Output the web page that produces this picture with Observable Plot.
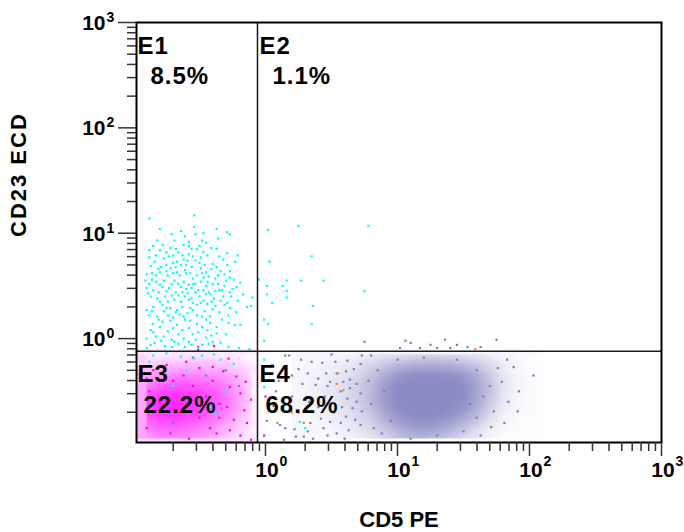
<!DOCTYPE html>
<html><head><meta charset="utf-8">
<script src="https://cdn.jsdelivr.net/npm/d3@7"></script>
<script src="https://cdn.jsdelivr.net/npm/@observablehq/plot@0.6"></script>
<style>html,body{margin:0;padding:0;background:#fff;} svg{display:block;}</style>
</head><body><div id="chart"></div>
<script>
// ---------- DATA (log10 units of CD5 PE, CD23 ECD) ----------
const gateX = 0.87;   // CD5 PE gate
const gateY = 0.76;   // CD23 ECD gate
const quadNames = ["E1", "E2", "E3", "E4"];
const quadPcts = ["8.5%", "1.1%", "22.2%", "68.2%"];
const xMajorExp = [0, 1, 2, 3];
const yMajorExp = [0, 1, 2, 3];
const xMinor = [0.2,0.3,0.4,0.5,0.6,0.7,0.8,0.9,2,3,4,5,6,7,8,9,20,30,40,50,60,70,80,90,200,300,400,500,600,700,800,900];
const yMinor = [0.2,0.3,0.4,0.5,0.6,0.7,0.8,0.9,2,3,4,5,6,7,8,9,20,30,40,50,60,70,80,90,200,300,400,500,600,700,800,900];

// E1 cyan population (log10 x, log10 y)
const cyanE1 = [[-0.88,1.14],[-0.54,1.17],[-0.54,1.06],[-0.80,1.04],[-0.37,1.04],[-0.29,1.01],[-0.71,0.99],[-0.61,0.97],[-0.53,0.99],[-0.27,0.99],[-0.69,0.93],[-0.48,0.93],[-0.36,0.95],[-0.85,0.88],[-0.78,0.89],[-0.62,0.89],[-0.45,0.91],[-0.56,0.85],[-0.52,0.85],[-0.88,0.84],[-0.80,0.84],[-0.75,0.82],[-0.68,0.85],[-0.37,0.85],[-0.29,0.81],[-0.21,0.79],[-0.83,0.79],[-0.63,0.79],[-0.58,0.80],[-0.44,0.79],[-0.35,0.78],[-0.23,0.73],[-0.84,0.73],[-0.77,0.76],[-0.67,0.73],[-0.59,0.74],[-0.53,0.74],[-0.40,0.71],[-0.79,0.68],[-0.72,0.67],[-0.68,0.68],[-0.64,0.70],[-0.61,0.65],[-0.56,0.68],[-0.49,0.67],[-0.45,0.63],[-0.34,0.64],[-0.27,0.64],[-0.90,0.61],[-0.86,0.62],[-0.80,0.63],[-0.74,0.60],[-0.67,0.63],[-0.57,0.62],[-0.52,0.60],[-0.43,0.59],[-0.38,0.57],[-0.30,0.55],[-0.24,0.56],[-0.19,0.53],[-0.91,0.55],[-0.83,0.54],[-0.77,0.55],[-0.69,0.55],[-0.62,0.54],[-0.58,0.51],[-0.49,0.54],[-0.40,0.52],[-0.90,0.48],[-0.85,0.46],[-0.78,0.49],[-0.73,0.48],[-0.64,0.49],[-0.56,0.48],[-0.51,0.46],[-0.43,0.44],[-0.35,0.46],[-0.33,0.46],[-0.27,0.44],[-0.87,0.40],[-0.82,0.38],[-0.76,0.40],[-0.71,0.41],[-0.66,0.41],[-0.61,0.40],[-0.56,0.38],[-0.45,0.42],[-0.42,0.42],[-0.39,0.38],[-0.34,0.36],[-0.29,0.34],[-0.21,0.36],[-0.10,0.39],[-0.90,0.27],[-0.85,0.30],[-0.78,0.32],[-0.72,0.29],[-0.67,0.27],[-0.63,0.30],[-0.57,0.29],[-0.52,0.32],[-0.44,0.33],[-0.38,0.31],[-0.27,0.29],[-0.14,0.30],[-0.11,0.31],[-0.88,0.22],[-0.82,0.21],[-0.74,0.22],[-0.68,0.25],[-0.62,0.21],[-0.52,0.22],[-0.48,0.21],[-0.42,0.21],[-0.28,0.22],[-0.85,0.14],[-0.78,0.16],[-0.72,0.17],[-0.67,0.13],[-0.61,0.18],[-0.52,0.14],[-0.42,0.15],[-0.23,0.13],[-0.19,0.13],[-0.87,0.08],[-0.80,0.11],[-0.63,0.08],[-0.58,0.10],[-0.44,0.08],[-0.37,0.05],[-0.90,0.00],[-0.83,0.02],[-0.77,0.02],[-0.71,-0.01],[-0.62,0.00],[-0.53,-0.01],[-0.45,0.01],[-0.40,-0.03],[-0.76,-0.07],[-0.69,-0.03],[-0.61,-0.08],[-0.56,-0.06],[-0.48,-0.06],[-0.34,-0.04],[-0.20,-0.09],[-0.12,-0.10],[-0.90,-0.09],
[-0.70,0.72],[-0.60,0.70],[-0.50,0.72],[-0.75,0.64],[-0.65,0.60],[-0.55,0.57],[-0.47,0.58],[-0.71,0.52],[-0.60,0.47],[-0.53,0.52],[-0.45,0.50],[-0.68,0.44],[-0.59,0.43],[-0.50,0.40],[-0.74,0.35],[-0.64,0.35],[-0.55,0.34],[-0.47,0.36],[-0.81,0.44],[-0.86,0.56],[-0.81,0.66],[-0.73,0.78],[-0.66,0.82],[-0.47,0.82],[-0.41,0.66],[-0.36,0.52],[-0.32,0.40],[-0.40,0.28],[-0.59,0.24],[-0.77,0.26],[-0.70,0.10],[-0.48,0.11],[-0.33,0.18],[-0.55,0.04],[-0.66,-0.05],[-0.84,-0.04],[-0.31,0.61],[-0.25,0.47],[-0.17,0.42],[-0.58,0.92],
[-0.82,0.93],[-0.64,1.02],[-0.47,1.00],[-0.72,0.86],[-0.58,0.88],[-0.50,0.88],[-0.41,0.86],[-0.88,0.77],[-0.70,0.79],[-0.55,0.78],[-0.49,0.77],[-0.32,0.75],[-0.87,0.69],[-0.75,0.70],[-0.62,0.75],[-0.46,0.70],[-0.37,0.68],[-0.29,0.70],[-0.83,0.60],[-0.70,0.62],[-0.60,0.62],[-0.48,0.62],[-0.36,0.60],[-0.27,0.58],[-0.88,0.52],[-0.80,0.51],[-0.66,0.52],[-0.55,0.52],[-0.44,0.54],[-0.31,0.50],[-0.22,0.49],[-0.89,0.43],[-0.75,0.45],[-0.63,0.44],[-0.53,0.44],[-0.47,0.46],[-0.38,0.45],[-0.26,0.40],[-0.80,0.35],[-0.69,0.37],[-0.58,0.37],[-0.49,0.34],[-0.41,0.35],[-0.31,0.32],[-0.86,0.26],[-0.75,0.29],[-0.65,0.23],[-0.55,0.27],[-0.46,0.26],[-0.35,0.25],[-0.22,0.25],[-0.81,0.18],[-0.70,0.20],[-0.57,0.17],[-0.45,0.18],[-0.37,0.11],[-0.28,0.15],[-0.85,0.06],[-0.74,0.07],[-0.66,0.04],[-0.51,0.06],[-0.41,0.03],[-0.30,0.04],[-0.79,-0.02],[-0.58,-0.03],[-0.43,-0.05],[-0.87,-0.06],[-0.71,-0.08],[-0.51,-0.09],[-0.28,-0.08]];
// cyan events in E2, E3, E4
const cyanOther = [[0.02,1.03],[0.25,1.07],[0.78,1.07],[0.03,0.73],[0.35,0.78],[-0.05,0.56],[0.16,0.55],[0.27,0.55],[0.44,0.55],[0.01,0.50],[0.13,0.50],[0.16,0.45],[0.75,0.45],[0.01,0.42],[0.16,0.39],[0.05,0.34],[0.36,0.31],[-0.01,0.18],[0.02,0.14],[0.35,0.14],[-0.01,-0.02],
[-0.85,-0.16],[-0.75,-0.14],[-0.64,-0.17],[-0.54,-0.19],[-0.48,-0.16],[-0.39,-0.15],[-0.34,-0.20],[-0.24,-0.24],[-0.42,-0.65],[-0.52,-0.58],[-0.38,-0.71],[-0.60,-0.30],[-0.70,-0.45],[-0.88,-0.22],[-0.30,-0.50],
[-0.01,-0.20],[-0.01,-0.46],[0.26,-0.79],[0.30,-0.85]];
// magenta events (E3 population) outside / on top of its dense core
const magentaPts = [[-0.28,-0.19],[-0.40,-0.27],[-0.32,-0.31],[-0.22,-0.36],[-0.15,-0.41],[-0.27,-0.46],[-0.19,-0.52],[-0.11,-0.58],[-0.29,-0.65],[-0.16,-0.68],[-0.24,-0.77],[-0.14,-0.80],[-0.27,-0.87],[-0.37,-0.90],[-0.19,-0.92],[-0.11,-0.96],[-0.51,-0.08],[-0.39,-0.07],[-0.51,-0.11],
[-0.85,-0.30],[-0.75,-0.25],[-0.60,-0.22],[-0.50,-0.28],[-0.88,-0.50],[-0.70,-0.40],[-0.55,-0.45],[-0.45,-0.55],[-0.80,-0.60],[-0.65,-0.70],[-0.50,-0.75],[-0.90,-0.85],[-0.72,-0.90],[-0.58,-0.95],[-0.42,-0.85],[-0.35,-0.62],[-0.40,-0.40],[-0.62,-0.35],[-0.90,-0.38],[-0.35,-0.75],
[0.00,-0.55],[-0.01,-0.92]];
// blue (E4 population) sparse events around its dense core
const bluePts = [[0.15,-0.16],[0.18,-0.16],[0.50,-0.15],[0.73,-0.16],[0.80,-0.16],[0.27,-0.20],[0.43,-0.23],[0.62,-0.21],[0.72,-0.24],[0.25,-0.29],[0.32,-0.33],[0.46,-0.33],[0.40,-0.38],[0.54,-0.33],[0.61,-0.31],[0.67,-0.29],[0.49,-0.41],[0.59,-0.41],[0.64,-0.39],[0.69,-0.43],[0.28,-0.43],[0.38,-0.44],[0.57,-0.50],[0.64,-0.47],[0.72,-0.52],[0.62,-0.57],[0.69,-0.60],[0.58,-0.65],[0.66,-0.66],[0.73,-0.69],[0.61,-0.74],[0.68,-0.77],[0.57,-0.80],[0.72,-0.82],[0.63,-0.87],[0.49,-0.79],[0.42,-0.76],[0.34,-0.80],[0.22,-0.86],[0.15,-0.85],[0.11,-0.82],[0.32,-0.88],[0.23,-0.93],[0.29,-0.93],[0.47,-0.92],[0.54,-0.90],[0.14,-0.96],[0.06,-0.64],[0.01,-0.78],
[0.05,-0.25],[0.10,-0.40],[0.20,-0.55],[0.33,-0.60],[0.45,-0.55],[0.40,-0.65],[0.25,-0.70],[0.36,-0.95],[0.52,-0.70],[0.47,-0.45],[0.53,-0.22],[0.35,-0.22],[0.20,-0.35],[0.08,-0.50],[0.60,-0.95],[0.44,-0.85],
[2.03,-0.35],[1.92,-0.50],[1.91,-0.69],[1.81,-0.80],[1.83,-0.20],[1.76,-0.28],[1.79,-0.41],[1.84,-0.60],[1.73,-0.69],[1.71,-0.84],[1.63,-0.92],[1.88,-0.27],
[0.75,-0.03],[1.06,-0.02],[1.10,-0.04],[1.17,-0.09],[1.36,-0.01],[1.45,-0.06],[1.63,-0.08],[1.75,-0.01],[1.30,-0.09],[1.02,-0.09],[1.25,-0.06],[1.40,-0.09],[1.53,-0.08],
[0.85,-0.30],[0.90,-0.50],[0.80,-0.62],[0.95,-0.78],[0.88,-0.90],[1.00,-0.20],[1.20,-0.18],[1.45,-0.20],[1.60,-0.30],[1.65,-0.55],[1.60,-0.75],[1.50,-0.88],[1.30,-0.92],[1.10,-0.95],[0.78,-0.40],[1.55,-0.62],[1.70,-0.45],[0.82,-0.85],
[-0.45,-0.35],[-0.60,-0.60],[-0.30,-0.30],[-0.70,-0.80],[-0.20,-0.45],[-0.55,-0.18]];
const orangePts = [[1.59,-0.10],[0.59,-0.49],[0.55,-0.33],[0.54,-0.43],[0.20,-0.70],[0.09,-0.80],[0.29,-0.80]];

// event density (0..1) of the E4 core: 9 rows (log y -0.15 .. -0.95), 18 cols (log x 0.3 .. 2.0)
const blueDensity = [
0.04,0.05,0.07,0.09,0.12,0.16,0.20,0.24,0.27,0.28,0.28,0.27,0.24,0.20,0.14,0.08,0.04,0.01,
0.06,0.09,0.12,0.17,0.24,0.33,0.45,0.55,0.62,0.65,0.65,0.62,0.55,0.45,0.30,0.15,0.06,0.02,
0.08,0.11,0.16,0.22,0.32,0.46,0.64,0.80,0.87,0.89,0.89,0.87,0.80,0.64,0.42,0.20,0.08,0.03,
0.09,0.13,0.18,0.26,0.38,0.55,0.76,0.90,0.92,0.92,0.92,0.92,0.88,0.72,0.48,0.22,0.09,0.04,
0.09,0.13,0.18,0.26,0.38,0.56,0.78,0.91,0.92,0.92,0.92,0.92,0.88,0.70,0.45,0.20,0.08,0.03,
0.08,0.12,0.17,0.24,0.35,0.52,0.74,0.89,0.92,0.92,0.92,0.90,0.84,0.64,0.38,0.16,0.06,0.03,
0.06,0.09,0.13,0.19,0.28,0.42,0.62,0.80,0.88,0.90,0.88,0.82,0.68,0.50,0.26,0.10,0.04,0.01,
0.04,0.06,0.09,0.13,0.20,0.30,0.46,0.64,0.73,0.76,0.72,0.63,0.48,0.30,0.14,0.05,0.02,0,
0.02,0.04,0.06,0.09,0.13,0.20,0.32,0.45,0.54,0.55,0.50,0.40,0.28,0.16,0.07,0.02,0.01,0];
const blueGridLogX = [0.3,0.4,0.5,0.6,0.7,0.8,0.9,1.0,1.1,1.2,1.3,1.4,1.5,1.6,1.7,1.8,1.9,2.0];
const blueGridLogY = [-0.15,-0.25,-0.35,-0.45,-0.55,-0.65,-0.75,-0.85,-0.95];
// event density (0..1) of the E3 core: 9 rows (log y -0.15 .. -0.95), 9 cols (log x -0.9 .. -0.1)
const magentaDensity = [
0.06,0.08,0.09,0.10,0.10,0.09,0.08,0.06,0.03,
0.18,0.22,0.26,0.28,0.28,0.26,0.22,0.16,0.07,
0.35,0.42,0.48,0.50,0.48,0.44,0.38,0.28,0.12,
0.52,0.62,0.68,0.68,0.65,0.60,0.50,0.35,0.15,
0.68,0.78,0.82,0.80,0.76,0.68,0.56,0.38,0.16,
0.72,0.82,0.85,0.82,0.76,0.66,0.54,0.36,0.15,
0.65,0.74,0.76,0.72,0.66,0.56,0.44,0.28,0.12,
0.52,0.60,0.62,0.58,0.52,0.44,0.32,0.20,0.08,
0.38,0.44,0.45,0.42,0.38,0.30,0.22,0.13,0.05];
const magGridLogX = [-0.9,-0.8,-0.7,-0.6,-0.5,-0.4,-0.3,-0.2,-0.1];
const magGridLogY = [-0.15,-0.25,-0.35,-0.45,-0.55,-0.65,-0.75,-0.85,-0.95];

// ---------- CHART ----------
const BLUE = "#7f7fbf", MAG = "#ff00ff", CYAN = "#00ffff", ORANGE = "#f08a30";
const toPts = arr => arr.map(([a, b]) => ({x: 10 ** a, y: 10 ** b}));
const toGrid = (vals, gx, gy) => vals.map((v, i) => ({x: 10 ** gx[i % gx.length], y: 10 ** gy[Math.floor(i / gx.length)], v}));
const FONT = "'Liberation Sans', Arial, Helvetica, sans-serif";
const xMin = 10 ** -0.977, yMin = 10 ** -0.986;

const quad = quadNames.map((n, i) => ({
  name: n, pct: quadPcts[i],
  x: i % 2 === 0 ? xMin : gateX,
  y: i < 2 ? 1000 : gateY
}));
const quadOffsets = [
  {ndx: 1, ndy: 31, pdx: 14, pdy: 61},
  {ndx: 2, ndy: 31, pdx: 15, pdy: 61},
  {ndx: 1, ndy: 30.5, pdx: 7, pdy: 61.5},
  {ndx: 2, ndy: 30.5, pdx: 8, pdy: 61.5}
];
const quadMarks = quad.flatMap((q, i) => [
  Plot.text([q], {x: "x", y: "y", text: "name", dx: quadOffsets[i].ndx, dy: quadOffsets[i].ndy, textAnchor: "start", lineAnchor: "bottom", fontSize: 24, fontWeight: "bold", fill: "#000"}),
  Plot.text([q], {x: "x", y: "y", text: "pct", dx: quadOffsets[i].pdx, dy: quadOffsets[i].pdy, textAnchor: "start", lineAnchor: "bottom", fontSize: 24, fontWeight: "bold", fill: "#000"})
]);

const dotOpts = (fill) => ({x: "x", y: "y", symbol: "square", r: 1.25, fill, clip: true});

const chart = Plot.plot({
  width: 684, height: 532,
  marginLeft: 136, marginRight: 23, marginTop: 22, marginBottom: 90,
  style: {fontFamily: FONT, background: "#fff", overflow: "visible"},
  x: {type: "log", domain: [xMin, 1000], axis: null},
  y: {type: "log", domain: [yMin, 1000], axis: null},
  opacity: {type: "linear", domain: [0, 1], range: [0, 1]},
  marks: [
    Plot.raster(toGrid(blueDensity, blueGridLogX, blueGridLogY), {x: "x", y: "y", fill: BLUE, fillOpacity: "v", interpolate: "barycentric", x1: 10 ** 0.2, x2: 10 ** 2.1, y1: 10 ** -0.1, y2: yMin, clip: true}),
    Plot.raster(toGrid(magentaDensity, magGridLogX, magGridLogY), {x: "x", y: "y", fill: MAG, fillOpacity: "v", interpolate: "barycentric", x1: xMin, x2: 10 ** -0.05, y1: 10 ** -0.1, y2: yMin, clip: true}),
    Plot.dot(toPts(bluePts), dotOpts(BLUE)),
    Plot.dot(toPts(magentaPts), dotOpts(MAG)),
    Plot.dot(toPts(cyanE1), dotOpts(CYAN)),
    Plot.dot(toPts(cyanOther), dotOpts(CYAN)),
    Plot.dot(toPts(orangePts), dotOpts(ORANGE)),
    Plot.ruleX([gateX], {stroke: "#1a1a1a", strokeWidth: 1.5}),
    Plot.ruleY([gateY], {stroke: "#1a1a1a", strokeWidth: 1.5}),
    Plot.frame({stroke: "#000", strokeWidth: 2}),
    // ticks
    Plot.axisX({ticks: xMajorExp.map(e => 10 ** e), anchor: "bottom", tickSize: 14, tickFormat: () => "", label: null, stroke: "#333", strokeWidth: 1.5}),
    Plot.axisX({ticks: xMinor, anchor: "bottom", tickSize: 9, tickFormat: () => "", label: null, stroke: "#333", strokeWidth: 1.5}),
    Plot.axisY({ticks: yMajorExp.map(e => 10 ** e), anchor: "left", tickSize: 18, tickFormat: () => "", label: null, stroke: "#333", strokeWidth: 1.5}),
    Plot.axisY({ticks: yMinor, anchor: "left", tickSize: 9, tickFormat: () => "", label: null, stroke: "#333", strokeWidth: 1.5}),
    // tick labels 10^n
    Plot.text(xMajorExp, {x: d => 10 ** d, frameAnchor: "bottom", text: () => "10", textAnchor: "middle", lineAnchor: "bottom", dx: 1.5, dy: 34.5, fontSize: 21, fontWeight: "bold", fill: "#000"}),
    Plot.text(xMajorExp, {x: d => 10 ** d, frameAnchor: "bottom", text: d => String(d), textAnchor: "start", lineAnchor: "bottom", dx: 14, dy: 23.5, fontSize: 14, fontWeight: "bold", fill: "#000"}),
    Plot.text(yMajorExp, {y: d => 10 ** d, frameAnchor: "left", text: () => "10", textAnchor: "end", lineAnchor: "bottom", dx: -31, dy: 7.5, fontSize: 21, fontWeight: "bold", fill: "#000"}),
    Plot.text(yMajorExp, {y: d => 10 ** d, frameAnchor: "left", text: d => String(d), textAnchor: "start", lineAnchor: "bottom", dx: -30, dy: -0.5, fontSize: 14, fontWeight: "bold", fill: "#000"}),
    // axis titles
    Plot.text(["CD5 PE"], {text: d => d, frameAnchor: "bottom", dy: 77, lineAnchor: "middle", fontSize: 22, fontWeight: "bold", fill: "#000"}),
    Plot.text(["CD23 ECD"], {text: d => d, frameAnchor: "left", dx: -118, dy: 4.5, rotate: -90, lineAnchor: "middle", fontSize: 22, fontWeight: "bold", fill: "#000"}),
    ...quadMarks
  ]
});

chart.querySelectorAll("text").forEach(t => {
  const s = t.textContent;
  if (s === "CD23 ECD") t.setAttribute("letter-spacing", "2");
  if (quadNames.includes(s) || quadPcts.includes(s)) t.setAttribute("letter-spacing", "1");
});
document.getElementById("chart").appendChild(chart);
</script></body></html>
